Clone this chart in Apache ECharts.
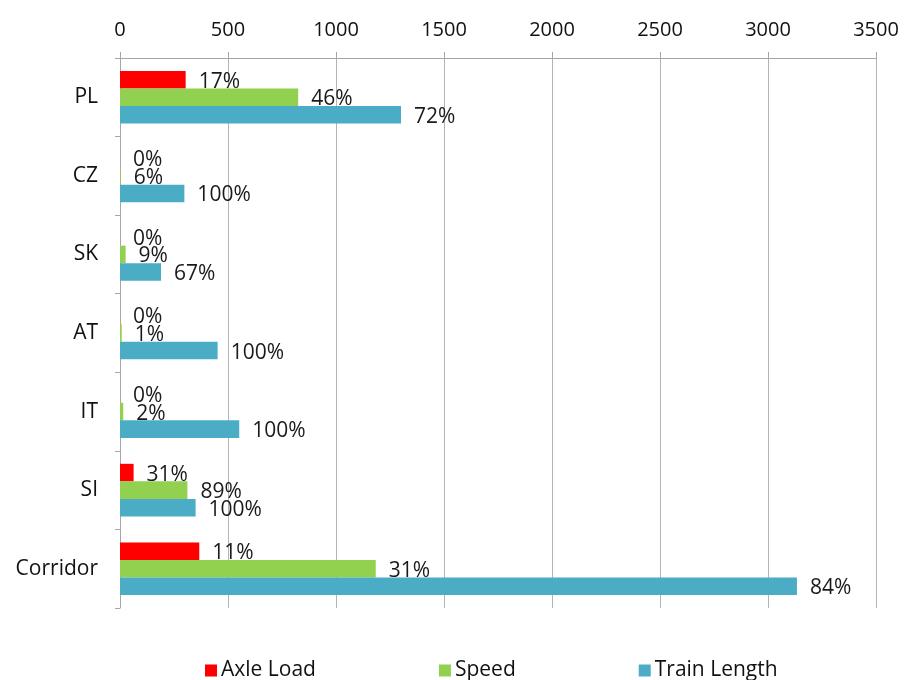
<!DOCTYPE html>
<html>
<head>
<meta charset="utf-8">
<script src="https://cdn.jsdelivr.net/npm/echarts@6/dist/echarts.min.js"></script>
<style>
html,body{margin:0;padding:0;background:#fff;}
#chart{width:904px;height:680px;}
</style>
</head>
<body>
<div id="chart"></div>
<script>
const categories = ['PL', 'CZ', 'SK', 'AT', 'IT', 'SI', 'Corridor'];
const axleLoad = [304, 0, 0, 0, 0, 63, 367];
const speed = [825, 3, 26, 8, 15, 312, 1184];
const trainLength = [1301, 298, 190, 452, 552, 350, 3134];
const axleLoadPct = ['17%', '0%', '0%', '0%', '0%', '31%', '11%'];
const speedPct = ['46%', '6%', '9%', '1%', '2%', '89%', '31%'];
const trainLengthPct = ['72%', '100%', '67%', '100%', '100%', '100%', '84%'];
const seriesNames = ['Axle Load', 'Speed', 'Train Length'];
const xTicks = [0, 500, 1000, 1500, 2000, 2500, 3000, 3500];

const font = '"Open Sans", "DejaVu Sans", sans-serif';
function makeSeries(name, data, pct, color) {
  return {
    name: name,
    type: 'bar',
    data: data,
    barGap: '0%',
    barCategoryGap: '33%',
    itemStyle: { color: color },
    label: {
      show: true,
      position: 'right',
      distance: 13,
      offset: [0, 2],
      color: '#1a1a1a',
      fontSize: 21,
      fontFamily: font,
      formatter: p => pct[p.dataIndex]
    }
  };
}

const chart = echarts.init(document.getElementById('chart'), null, { renderer: 'canvas' });
chart.setOption({
  animation: false,
  backgroundColor: '#fff',
  grid: { left: 120, right: 28, top: 58, bottom: 72, containLabel: false },
  xAxis: {
    type: 'value',
    position: 'top',
    min: xTicks[0],
    max: xTicks[xTicks.length - 1],
    interval: 500,
    axisLine: { show: true, lineStyle: { color: '#a6a6a6' } },
    axisTick: { show: true, length: 6, lineStyle: { color: '#a6a6a6' } },
    axisLabel: { color: '#111', fontSize: 20, fontFamily: font, margin: 18, formatter: v => String(v) },
    splitLine: { show: true, lineStyle: { color: '#b4b4b4', width: 1 } }
  },
  yAxis: {
    type: 'category',
    data: categories,
    inverse: true,
    axisLine: { show: true, lineStyle: { color: '#a6a6a6' } },
    axisTick: { show: true, length: 5, lineStyle: { color: '#a6a6a6' } },
    axisLabel: { color: '#111', fontSize: 21, fontFamily: font, margin: 22 },
    splitLine: { show: false }
  },
  legend: {
    bottom: -6,
    left: 200,
    itemGap: 123,
    itemWidth: 12,
    itemHeight: 12,
    icon: 'rect',
    textStyle: { color: '#111', fontSize: 21, fontFamily: font, padding: [0, 0, 0, -1] },
    data: seriesNames
  },
  series: [
    makeSeries(seriesNames[0], axleLoad, axleLoadPct, '#ff0000'),
    makeSeries(seriesNames[1], speed, speedPct, '#92d050'),
    makeSeries(seriesNames[2], trainLength, trainLengthPct, '#4bacc6')
  ]
});
</script>
</body>
</html>
